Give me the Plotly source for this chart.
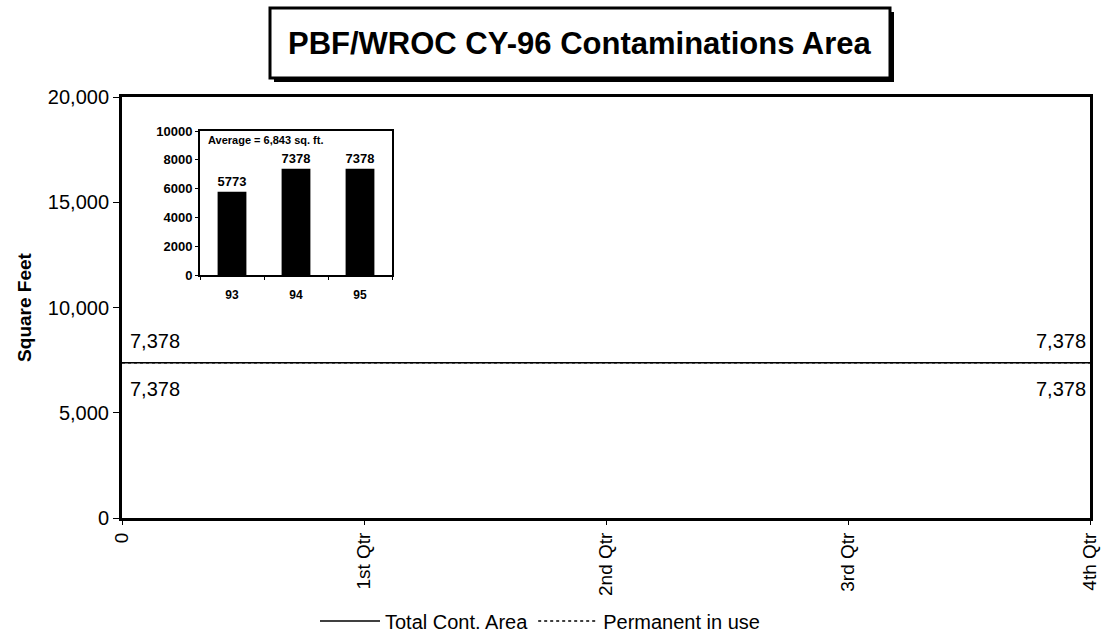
import plotly.graph_objects as go

# Main chart: quarterly contamination area, CY-96
quarters = ["0", "1st Qtr", "2nd Qtr", "3rd Qtr", "4th Qtr"]
total_area = [7378, 7378, 7378, 7378, 7378]
permanent_in_use = [7378, 7378, 7378, 7378, 7378]
y_ticks = [0, 5000, 10000, 15000, 20000]
y_tick_labels = ["0", "5,000", "10,000", "15,000", "20,000"]

# Inset: prior-year areas
years = ["93", "94", "95"]
year_area = [5773, 7378, 7378]
average_area = 6843
inset_ticks = [0, 2000, 4000, 6000, 8000, 10000]

FONT = "Liberation Sans, Arial, sans-serif"

W, H = 1102, 634
ML, MR, MT, MB = 122, 12, 97, 116
PW, PH = W - ML - MR, H - MT - MB


def px_x(x):
    return (x - ML) / PW


def px_y(y):
    return (H - MB - y) / PH


xi = list(range(len(quarters)))

fig = go.Figure()

fig.add_trace(go.Scatter(
    x=xi, y=total_area, name="Total Cont. Area",
    mode="lines", line=dict(color="black", width=1.5),
    cliponaxis=False, xaxis="x", yaxis="y",
))
fig.add_trace(go.Scatter(
    x=xi, y=permanent_in_use, name="Permanent in use",
    mode="lines", line=dict(color="black", width=1.5, dash="dot"),
    cliponaxis=False, xaxis="x", yaxis="y",
))

# End-point value labels: total above the line, permanent below
for series, shift in ((total_area, 22), (permanent_in_use, -26)):
    for idx, anchor, xs in ((0, "left", 6), (len(series) - 1, "right", -2)):
        fig.add_annotation(
            x=xi[idx], y=series[idx], xref="x", yref="y",
            text=f"{series[idx]:,}", showarrow=False,
            xanchor=anchor, yanchor="middle", xshift=xs, yshift=shift,
            font=dict(family=FONT, size=20, color="black"),
        )

fig.add_trace(go.Bar(
    x=years, y=year_area, width=0.45, marker=dict(color="black", line=dict(width=0)),
    text=[f"<b>{v}</b>" for v in year_area], textposition="outside",
    textfont=dict(family=FONT, size=13, color="black"),
    cliponaxis=False, showlegend=False, xaxis="x2", yaxis="y2",
))

inset_x = [px_x(200), px_x(392)]
inset_y = [px_y(275), px_y(131)]

fig.update_layout(
    width=W, height=H,
    margin=dict(l=ML, r=MR, t=MT, b=MB, autoexpand=False),
    paper_bgcolor="white", plot_bgcolor="white",
    font=dict(family=FONT, color="black"),
    showlegend=True,
    legend=dict(
        orientation="h", x=px_x(540), xanchor="center", y=px_y(621), yanchor="middle",
        font=dict(family=FONT, size=20, color="black"),
        itemwidth=60, tracegroupgap=0, bgcolor="rgba(0,0,0,0)",
    ),
    xaxis=dict(
        range=[0, 4], tickvals=xi, ticktext=quarters, tickangle=-90,
        tickfont=dict(family=FONT, size=19), showgrid=False, zeroline=False,
        showline=True, linecolor="black", linewidth=3, mirror=True,
        ticks="outside", ticklen=4, tickcolor="black", automargin=False,
    ),
    yaxis=dict(
        range=[0, 20000], tickvals=y_ticks, ticktext=y_tick_labels,
        tickfont=dict(family=FONT, size=20), showgrid=False, zeroline=False,
        showline=True, linecolor="black", linewidth=3, mirror=True,
        ticks="outside", ticklen=6, tickcolor="black", automargin=False,
        title=dict(text="<b>Square Feet</b>", font=dict(family=FONT, size=19), standoff=12),
    ),
    xaxis2=dict(
        domain=inset_x, anchor="y2", type="category",
        tickfont=dict(family=FONT, size=12, weight="bold"), showgrid=False,
        showline=True, linecolor="black", linewidth=2, mirror=True,
        ticks="outside", ticklen=3, tickson="boundaries", tickcolor="black",
        ticklabelstandoff=8, automargin=False,
    ),
    yaxis2=dict(
        domain=inset_y, anchor="x2", range=[0, 10000],
        tickvals=inset_ticks, ticktext=[str(v) for v in inset_ticks],
        tickfont=dict(family=FONT, size=13, weight="bold"), showgrid=False, zeroline=False,
        showline=True, linecolor="black", linewidth=2, mirror=True,
        ticks="outside", ticklen=3, tickcolor="black", automargin=False,
    ),
    bargap=0.5,
)

# Inset caption with the average
fig.add_annotation(
    xref="x2 domain", yref="y2 domain", x=0.03, y=0.99, xanchor="left", yanchor="top",
    text=f"<b>Average = {average_area:,} sq. ft.</b>", showarrow=False,
    font=dict(family=FONT, size=11, color="black"),
)

# Boxed title with a drop shadow
bx0, bx1, by0, by1 = 270, 890, 8, 78
fig.add_shape(type="rect", xref="paper", yref="paper",
              x0=px_x(bx0 + 4), x1=px_x(bx1 + 4), y0=px_y(by1 + 4), y1=px_y(by0 + 4),
              fillcolor="black", line=dict(width=0), layer="above")
fig.add_shape(type="rect", xref="paper", yref="paper",
              x0=px_x(bx0), x1=px_x(bx1), y0=px_y(by1), y1=px_y(by0),
              fillcolor="white", line=dict(color="black", width=3), layer="above")
fig.add_annotation(
    xref="paper", yref="paper", x=px_x((bx0 + bx1) / 2), y=px_y((by0 + by1) / 2),
    xanchor="center", yanchor="middle", showarrow=False,
    text="<b>PBF/WROC CY-96 Contaminations Area</b>",
    font=dict(family=FONT, size=31, color="black"),
)

fig.write_html("out.html")
